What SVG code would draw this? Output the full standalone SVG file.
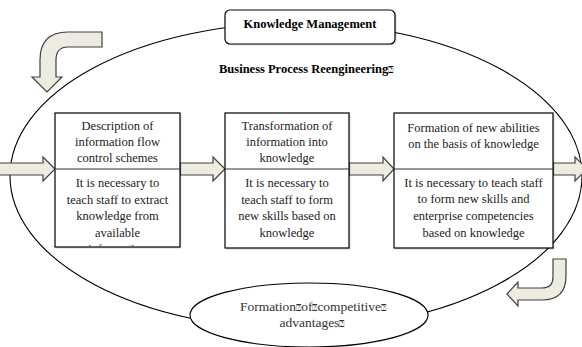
<svg xmlns="http://www.w3.org/2000/svg" width="582" height="347" viewBox="0 0 582 347">
<defs>
<style>
.box{fill:#fff;stroke:#000;stroke-width:1.2}
.shadow{fill:#000;opacity:0.15}
.arr{fill:#eeece1;stroke:#404040;stroke-width:1.2;stroke-linejoin:miter}
.t{font-family:"Liberation Serif","Times New Roman",serif;font-size:12.5px;fill:#222;text-anchor:middle}
.b{font-family:"Liberation Serif","Times New Roman",serif;font-size:12.5px;font-weight:bold;fill:#000}
.e{font-family:"Liberation Serif","Times New Roman",serif;font-size:13.5px;fill:#333;text-anchor:middle}
.q{font-size:9px;font-weight:normal;font-family:"DejaVu Sans",sans-serif}
</style>
<clipPath id="c1"><rect x="55" y="169" width="125" height="77"/></clipPath>
</defs>
<rect width="582" height="347" fill="#fff"/>
<g id="cycle">
<ellipse cx="296" cy="176" rx="286" ry="153" fill="none" stroke="#000" stroke-width="1.1"/>
</g>
<g id="connectors">
<path class="arr" d="M-2,163 L43,163 L43,157 L55,169 L43,181 L43,175 L-2,175 Z"/>
<path class="arr" d="M180,163 L213,163 L213,157 L225,169 L213,181 L213,175 L180,175 Z"/>
<path class="arr" d="M349,163 L383,163 L383,157 L394,169 L383,181 L383,175 L349,175 Z"/>
<path class="arr" d="M553,163 L575,163 L575,157 L587,169 L575,181 L575,175 L553,175 Z"/>
<path class="arr" d="M102,32 L68,32 Q40,32 40,60 L40,77 L32,77 L47,92 L62,77 L56,77 L56,60 Q56,47 68,47 L102,47 Z"/>
<path class="arr" d="M553,259 L566,259 L566,276 Q566,300 542,300 L518,300 L518,306 L507,294 L518,282 L518,288 L542,288 Q553,288 553,277 Z"/>
</g>
<g id="km">
<rect class="shadow" x="226.5" y="11.5" width="170" height="34" rx="5"/>
<rect class="box" x="225" y="10" width="170" height="34" rx="5"/>
<text class="b" x="310" y="28" text-anchor="middle">Knowledge Management</text>
</g>
<g id="bpr">
<text class="b" x="219" y="73">Business Process Reengineering<tspan class="q">⍰</tspan></text>
</g>
<g id="box1">
<rect class="shadow" x="56.5" y="114.5" width="125" height="134"/>
<rect class="box" x="55" y="113" width="125" height="134"/>
<line x1="55" y1="169" x2="180" y2="169" stroke="#333" stroke-width="1.2"/>
<text class="t" x="117.5" y="130">Description of</text>
<text class="t" x="117.5" y="146">information flow</text>
<text class="t" x="117.5" y="162">control schemes</text>
<g clip-path="url(#c1)">
<text class="t" x="117.5" y="187">It is necessary to</text>
<text class="t" x="117.5" y="203.5">teach staff to extract</text>
<text class="t" x="117.5" y="220">knowledge from</text>
<text class="t" x="117.5" y="236.5">available</text>
<text class="t" x="117.5" y="253">information</text>
</g>
</g>
<g id="box2">
<rect class="shadow" x="226.5" y="114.5" width="124" height="135"/>
<rect class="box" x="225" y="113" width="124" height="135"/>
<line x1="225" y1="169" x2="349" y2="169" stroke="#333" stroke-width="1.2"/>
<text class="t" x="287" y="130">Transformation of</text>
<text class="t" x="287" y="146">information into</text>
<text class="t" x="287" y="162">knowledge</text>
<text class="t" x="287" y="187">It is necessary to</text>
<text class="t" x="287" y="203.5">teach staff to form</text>
<text class="t" x="287" y="220">new skills based on</text>
<text class="t" x="287" y="236.5">knowledge</text>
</g>
<g id="box3">
<rect class="shadow" x="395.5" y="114.5" width="159" height="135"/>
<rect class="box" x="394" y="113" width="159" height="135"/>
<line x1="394" y1="169" x2="553" y2="169" stroke="#333" stroke-width="1.2"/>
<text class="t" x="473.5" y="132">Formation of new abilities</text>
<text class="t" x="473.5" y="147.5">on the basis of knowledge</text>
<text class="t" x="473.5" y="187">It is necessary to teach staff</text>
<text class="t" x="473.5" y="203">to form new skills and</text>
<text class="t" x="473.5" y="220">enterprise competencies</text>
<text class="t" x="473.5" y="236.5">based on knowledge</text>
</g>
<g id="advantages">
<ellipse cx="310" cy="316" rx="119" ry="32" fill="#000" opacity="0.12"/>
<ellipse cx="309" cy="315" rx="119" ry="32" fill="#fff" stroke="#000" stroke-width="1.1"/>
<text class="e" x="313" y="311">Formation<tspan class="q">⍰</tspan>of<tspan class="q">⍰</tspan>competitive<tspan class="q">⍰</tspan></text>
<text class="e" x="312" y="327">advantages<tspan class="q">⍰</tspan></text>
</g>
</svg>
